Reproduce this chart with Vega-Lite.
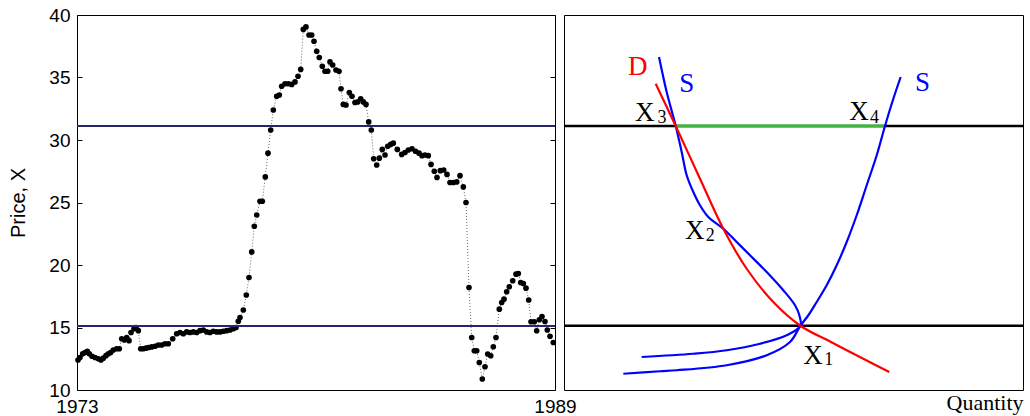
{
  "$schema": "https://vega.github.io/schema/vega-lite/v6.json",
  "background": "white",
  "padding": {"left": 8, "top": 5, "right": 5, "bottom": 2},
  "bounds": "flush",
  "spacing": 9,
  "config": {
    "view": {"stroke": "black", "strokeWidth": 1},
    "axis": {"grid": false, "labelColor": "black", "titleColor": "black", "tickColor": "black"}
  },
  "resolve": {"scale": {"x": "independent", "y": "independent"}},
  "datasets": {
    "price": [
      {"t": 1973.033, "v": 12.4}, {"t": 1973.100, "v": 12.6}, {"t": 1973.191, "v": 12.9}, {"t": 1973.268, "v": 13.0},
      {"t": 1973.345, "v": 13.1}, {"t": 1973.412, "v": 12.9}, {"t": 1973.502, "v": 12.7}, {"t": 1973.603, "v": 12.6},
      {"t": 1973.713, "v": 12.5}, {"t": 1973.803, "v": 12.4}, {"t": 1973.880, "v": 12.55}, {"t": 1973.971, "v": 12.75},
      {"t": 1974.048, "v": 12.9}, {"t": 1974.128, "v": 13.0}, {"t": 1974.215, "v": 13.2}, {"t": 1974.329, "v": 13.3},
      {"t": 1974.416, "v": 13.3}, {"t": 1974.496, "v": 14.1}, {"t": 1974.583, "v": 14.0}, {"t": 1974.664, "v": 14.2},
      {"t": 1974.741, "v": 13.95}, {"t": 1974.808, "v": 14.6}, {"t": 1974.908, "v": 14.9}, {"t": 1974.975, "v": 15.0},
      {"t": 1975.052, "v": 14.75}, {"t": 1975.132, "v": 13.3}, {"t": 1975.219, "v": 13.3}, {"t": 1975.310, "v": 13.35},
      {"t": 1975.400, "v": 13.4}, {"t": 1975.500, "v": 13.45}, {"t": 1975.611, "v": 13.5}, {"t": 1975.721, "v": 13.6},
      {"t": 1975.835, "v": 13.6}, {"t": 1975.946, "v": 13.7}, {"t": 1976.056, "v": 13.7}, {"t": 1976.203, "v": 14.1},
      {"t": 1976.337, "v": 14.5}, {"t": 1976.448, "v": 14.6}, {"t": 1976.558, "v": 14.5}, {"t": 1976.672, "v": 14.65},
      {"t": 1976.782, "v": 14.6}, {"t": 1976.893, "v": 14.65}, {"t": 1977.007, "v": 14.6}, {"t": 1977.117, "v": 14.75},
      {"t": 1977.228, "v": 14.8}, {"t": 1977.341, "v": 14.65}, {"t": 1977.452, "v": 14.6}, {"t": 1977.562, "v": 14.7},
      {"t": 1977.676, "v": 14.65}, {"t": 1977.787, "v": 14.65}, {"t": 1977.897, "v": 14.7}, {"t": 1978.011, "v": 14.75},
      {"t": 1978.121, "v": 14.8}, {"t": 1978.232, "v": 14.9}, {"t": 1978.322, "v": 15.0}, {"t": 1978.399, "v": 15.5},
      {"t": 1978.456, "v": 15.8}, {"t": 1978.567, "v": 16.4}, {"t": 1978.667, "v": 17.6}, {"t": 1978.757, "v": 19.0},
      {"t": 1978.848, "v": 21.05}, {"t": 1978.935, "v": 23.1}, {"t": 1979.015, "v": 24.0}, {"t": 1979.126, "v": 25.1},
      {"t": 1979.203, "v": 25.1}, {"t": 1979.303, "v": 27.05}, {"t": 1979.393, "v": 28.95}, {"t": 1979.484, "v": 30.8},
      {"t": 1979.571, "v": 32.4}, {"t": 1979.685, "v": 33.5}, {"t": 1979.772, "v": 33.6}, {"t": 1979.852, "v": 34.3},
      {"t": 1979.962, "v": 34.5}, {"t": 1980.073, "v": 34.5}, {"t": 1980.187, "v": 34.45}, {"t": 1980.297, "v": 34.65},
      {"t": 1980.398, "v": 35.1}, {"t": 1980.488, "v": 35.65}, {"t": 1980.575, "v": 38.85}, {"t": 1980.665, "v": 39.05},
      {"t": 1980.766, "v": 38.4}, {"t": 1980.856, "v": 38.4}, {"t": 1980.933, "v": 37.9}, {"t": 1981.023, "v": 37.1},
      {"t": 1981.110, "v": 36.6}, {"t": 1981.211, "v": 35.9}, {"t": 1981.301, "v": 35.5}, {"t": 1981.392, "v": 35.5},
      {"t": 1981.469, "v": 36.25}, {"t": 1981.559, "v": 36.0}, {"t": 1981.669, "v": 35.6}, {"t": 1981.770, "v": 35.5},
      {"t": 1981.837, "v": 34.1}, {"t": 1981.914, "v": 32.85}, {"t": 1982.004, "v": 32.8}, {"t": 1982.115, "v": 33.8},
      {"t": 1982.205, "v": 33.5}, {"t": 1982.305, "v": 33.0}, {"t": 1982.396, "v": 33.05}, {"t": 1982.496, "v": 33.3},
      {"t": 1982.583, "v": 33.05}, {"t": 1982.674, "v": 32.85}, {"t": 1982.764, "v": 31.45}, {"t": 1982.851, "v": 30.8},
      {"t": 1982.931, "v": 28.5}, {"t": 1983.032, "v": 28.0}, {"t": 1983.119, "v": 28.55}, {"t": 1983.219, "v": 29.25},
      {"t": 1983.310, "v": 28.8}, {"t": 1983.400, "v": 29.5}, {"t": 1983.500, "v": 29.65}, {"t": 1983.587, "v": 29.75},
      {"t": 1983.721, "v": 29.25}, {"t": 1983.869, "v": 28.85}, {"t": 1983.979, "v": 29.0}, {"t": 1984.090, "v": 29.2},
      {"t": 1984.213, "v": 29.3}, {"t": 1984.331, "v": 29.1}, {"t": 1984.448, "v": 28.95}, {"t": 1984.548, "v": 28.75},
      {"t": 1984.649, "v": 28.8}, {"t": 1984.759, "v": 28.75}, {"t": 1984.850, "v": 28.05}, {"t": 1984.960, "v": 27.5},
      {"t": 1985.050, "v": 27.0}, {"t": 1985.161, "v": 27.55}, {"t": 1985.275, "v": 27.6}, {"t": 1985.385, "v": 27.25},
      {"t": 1985.485, "v": 26.6}, {"t": 1985.596, "v": 26.6}, {"t": 1985.710, "v": 26.65}, {"t": 1985.820, "v": 27.15},
      {"t": 1985.931, "v": 26.25}, {"t": 1986.021, "v": 25.0}, {"t": 1986.121, "v": 18.2}, {"t": 1986.212, "v": 14.2},
      {"t": 1986.299, "v": 13.14}, {"t": 1986.379, "v": 13.14}, {"t": 1986.466, "v": 12.2}, {"t": 1986.567, "v": 10.88},
      {"t": 1986.657, "v": 11.86}, {"t": 1986.747, "v": 12.88}, {"t": 1986.848, "v": 12.74}, {"t": 1986.935, "v": 13.46},
      {"t": 1987.025, "v": 14.2}, {"t": 1987.136, "v": 16.47}, {"t": 1987.216, "v": 17.0}, {"t": 1987.293, "v": 17.27},
      {"t": 1987.383, "v": 17.86}, {"t": 1987.470, "v": 18.26}, {"t": 1987.584, "v": 18.74}, {"t": 1987.695, "v": 19.27},
      {"t": 1987.772, "v": 19.32}, {"t": 1987.852, "v": 18.6}, {"t": 1987.939, "v": 18.52}, {"t": 1988.029, "v": 18.15},
      {"t": 1988.120, "v": 17.2}, {"t": 1988.197, "v": 15.46}, {"t": 1988.307, "v": 15.46}, {"t": 1988.387, "v": 14.74},
      {"t": 1988.474, "v": 15.62}, {"t": 1988.565, "v": 15.88}, {"t": 1988.665, "v": 15.48}, {"t": 1988.742, "v": 14.8},
      {"t": 1988.833, "v": 14.3}, {"t": 1988.943, "v": 13.8}
    ],
    "leftLevels": [{"v": 31.12}, {"v": 15.12}],
    "rightLevels": [{"p": 31.12}, {"p": 15.14}],
    "gap": [{"q1": 24.34, "q2": 69.93, "p": 31.12}],
    "curves": [
      {"c": "S1", "i": 0, "q": 20.70, "p": 36.64},
      {"c": "S1", "i": 1, "q": 22.37, "p": 33.84},
      {"c": "S1", "i": 2, "q": 24.34, "p": 31.12},
      {"c": "S1", "i": 3, "q": 25.64, "p": 29.04},
      {"c": "S1", "i": 4, "q": 26.73, "p": 27.18},
      {"c": "S1", "i": 5, "q": 28.17, "p": 25.84},
      {"c": "S1", "i": 6, "q": 29.63, "p": 24.78},
      {"c": "S1", "i": 7, "q": 31.44, "p": 23.84},
      {"c": "S1", "i": 8, "q": 34.71, "p": 22.90},
      {"c": "S1", "i": 9, "q": 37.62, "p": 21.84},
      {"c": "S1", "i": 10, "q": 40.52, "p": 20.78},
      {"c": "S1", "i": 11, "q": 44.16, "p": 19.44},
      {"c": "S1", "i": 12, "q": 47.78, "p": 17.98},
      {"c": "S1", "i": 13, "q": 50.33, "p": 16.78},
      {"c": "S1", "i": 14, "q": 51.27, "p": 15.98},
      {"c": "S1", "i": 15, "q": 51.5, "p": 15.14},
      {"c": "S1", "i": 16, "q": 48.52, "p": 14.38},
      {"c": "S1", "i": 17, "q": 42.70, "p": 13.70},
      {"c": "S1", "i": 18, "q": 35.45, "p": 13.18},
      {"c": "S1", "i": 19, "q": 28.17, "p": 12.90},
      {"c": "S1", "i": 20, "q": 16.93, "p": 12.64},
      {"c": "S2", "i": 0, "q": 73.35, "p": 35.04},
      {"c": "S2", "i": 1, "q": 71.75, "p": 33.30},
      {"c": "S2", "i": 2, "q": 69.93, "p": 31.12},
      {"c": "S2", "i": 3, "q": 68.13, "p": 28.78},
      {"c": "S2", "i": 4, "q": 65.95, "p": 26.38},
      {"c": "S2", "i": 5, "q": 63.77, "p": 23.98},
      {"c": "S2", "i": 6, "q": 61.59, "p": 21.84},
      {"c": "S2", "i": 7, "q": 59.41, "p": 19.98},
      {"c": "S2", "i": 8, "q": 57.23, "p": 18.38},
      {"c": "S2", "i": 9, "q": 55.05, "p": 17.04},
      {"c": "S2", "i": 10, "q": 53.24, "p": 15.98},
      {"c": "S2", "i": 11, "q": 51.5, "p": 15.14},
      {"c": "S2", "i": 12, "q": 49.24, "p": 13.84},
      {"c": "S2", "i": 13, "q": 44.16, "p": 12.78},
      {"c": "S2", "i": 14, "q": 35.45, "p": 11.98},
      {"c": "S2", "i": 15, "q": 24.55, "p": 11.58},
      {"c": "S2", "i": 16, "q": 20.92, "p": 11.50},
      {"c": "S2", "i": 17, "q": 12.92, "p": 11.30},
      {"c": "D", "i": 0, "q": 19.98, "p": 34.50},
      {"c": "D", "i": 1, "q": 24.34, "p": 31.12},
      {"c": "D", "i": 2, "q": 29.63, "p": 26.90},
      {"c": "D", "i": 3, "q": 34.71, "p": 22.90},
      {"c": "D", "i": 4, "q": 39.80, "p": 19.70},
      {"c": "D", "i": 5, "q": 45.60, "p": 17.04},
      {"c": "D", "i": 6, "q": 51.5, "p": 15.14},
      {"c": "D", "i": 7, "q": 58.17, "p": 13.84},
      {"c": "D", "i": 8, "q": 65.21, "p": 12.50},
      {"c": "D", "i": 9, "q": 70.87, "p": 11.44}
    ],
    "labels": [
      {"kind": "point", "txt": "X", "q": 15.47, "p": 31.56},
      {"kind": "point", "txt": "X", "q": 26.36, "p": 22.10},
      {"kind": "point", "txt": "X", "q": 52.14, "p": 12.10},
      {"kind": "point", "txt": "X", "q": 62.16, "p": 31.58},
      {"kind": "sub", "txt": "3", "q": 20.37, "p": 31.36},
      {"kind": "sub", "txt": "2", "q": 30.87, "p": 21.92},
      {"kind": "sub", "txt": "1", "q": 56.71, "p": 12.02},
      {"kind": "sub", "txt": "4", "q": 66.67, "p": 31.38},
      {"kind": "demand", "txt": "D", "q": 13.94, "p": 35.2},
      {"kind": "supply", "txt": "S", "q": 25.12, "p": 33.84},
      {"kind": "supply", "txt": "S", "q": 76.47, "p": 33.9}
    ]
  },
  "hconcat": [
    {
      "width": 478,
      "height": 375,
      "resolve": {"axis": {"y": "independent"}},
      "layer": [
        {
          "data": {"name": "price"},
          "mark": {"type": "line", "color": "#666666", "strokeWidth": 1, "strokeDash": [1, 2]},
          "encoding": {
            "x": {"field": "t", "type": "quantitative",
              "scale": {"domain": [1973, 1989], "nice": false, "zero": false},
              "axis": {"values": [1973, 1989], "format": "d", "ticks": false, "domain": false, "labelFlush": false,
                "labelFont": "Liberation Sans", "labelFontSize": 19, "labelPadding": 7, "title": null}},
            "y": {"field": "v", "type": "quantitative",
              "scale": {"domain": [10, 40], "nice": false, "zero": false},
              "axis": {"orient": "left", "values": [10, 15, 20, 25, 30, 35, 40], "tickSize": -5, "domain": false,
                "labelFont": "Liberation Sans", "labelFontSize": 19, "labelPadding": 12,
                "title": "Price, X", "titleFont": "Liberation Sans", "titleFontSize": 20,
                "titleFontWeight": "normal", "titlePadding": 20}}
          }
        },
        {
          "data": {"name": "price"},
          "mark": {"type": "circle", "color": "black", "size": 32, "opacity": 1},
          "encoding": {
            "x": {"field": "t", "type": "quantitative",
              "axis": {"values": [1973, 1989], "format": "d", "ticks": false, "domain": false, "labelFlush": false,
                "labelFont": "Liberation Sans", "labelFontSize": 19, "labelPadding": 7, "title": null}},
            "y": {"field": "v", "type": "quantitative",
              "axis": {"orient": "right", "values": [10, 15, 20, 25, 30, 35, 40], "tickSize": -5,
                "domain": false, "labels": false, "title": null}}
          }
        },
        {
          "data": {"name": "leftLevels"},
          "mark": {"type": "rule", "color": "#26266a", "strokeWidth": 2},
          "encoding": {
            "y": {"field": "v", "type": "quantitative", "axis": null}
          }
        }
      ]
    },
    {
      "width": 459,
      "height": 375,
      "layer": [
        {
          "data": {"name": "rightLevels"},
          "mark": {"type": "rule", "color": "black", "strokeWidth": 2.5},
          "encoding": {
            "y": {"field": "p", "type": "quantitative",
              "scale": {"domain": [10, 40], "nice": false, "zero": false}, "axis": null}
          }
        },
        {
          "data": {"name": "gap"},
          "mark": {"type": "rule", "color": "#3cba3c", "strokeWidth": 3},
          "encoding": {
            "x": {"field": "q1", "type": "quantitative",
              "scale": {"domain": [0, 100], "nice": false, "zero": false},
              "axis": {"title": "Quantity", "titleAnchor": "end", "titleFont": "Liberation Serif",
                "titleFontSize": 22, "titleFontWeight": "normal", "titlePadding": 2,
                "labels": false, "ticks": false, "domain": false}},
            "x2": {"field": "q2"},
            "y": {"field": "p", "type": "quantitative", "axis": null}
          }
        },
        {
          "data": {"name": "curves"},
          "transform": [{"filter": "datum.c !== 'D'"}],
          "mark": {"type": "line", "color": "#0000ff", "strokeWidth": 2.2, "interpolate": "catmull-rom"},
          "encoding": {
            "x": {"field": "q", "type": "quantitative",
              "axis": {"title": "Quantity", "titleAnchor": "end", "titleFont": "Liberation Serif",
                "titleFontSize": 22, "titleFontWeight": "normal", "titlePadding": 2,
                "labels": false, "ticks": false, "domain": false}},
            "y": {"field": "p", "type": "quantitative", "axis": null},
            "detail": {"field": "c"},
            "order": {"field": "i", "type": "quantitative"}
          }
        },
        {
          "data": {"name": "curves"},
          "transform": [{"filter": "datum.c === 'D'"}],
          "mark": {"type": "line", "color": "#ff0000", "strokeWidth": 2.2, "interpolate": "catmull-rom"},
          "encoding": {
            "x": {"field": "q", "type": "quantitative",
              "axis": {"title": "Quantity", "titleAnchor": "end", "titleFont": "Liberation Serif",
                "titleFontSize": 22, "titleFontWeight": "normal", "titlePadding": 2,
                "labels": false, "ticks": false, "domain": false}},
            "y": {"field": "p", "type": "quantitative", "axis": null},
            "order": {"field": "i", "type": "quantitative"}
          }
        },
        {
          "data": {"name": "labels"},
          "transform": [{"filter": "datum.kind === 'point'"}],
          "mark": {"type": "text", "font": "Liberation Serif", "fontSize": 27, "color": "black", "align": "left", "baseline": "alphabetic"},
          "encoding": {
            "x": {"field": "q", "type": "quantitative",
              "axis": {"title": "Quantity", "titleAnchor": "end", "titleFont": "Liberation Serif",
                "titleFontSize": 22, "titleFontWeight": "normal", "titlePadding": 2,
                "labels": false, "ticks": false, "domain": false}},
            "y": {"field": "p", "type": "quantitative", "axis": null},
            "text": {"field": "txt"}
          }
        },
        {
          "data": {"name": "labels"},
          "transform": [{"filter": "datum.kind === 'sub'"}],
          "mark": {"type": "text", "font": "Liberation Serif", "fontSize": 18, "color": "black", "align": "left", "baseline": "alphabetic"},
          "encoding": {
            "x": {"field": "q", "type": "quantitative",
              "axis": {"title": "Quantity", "titleAnchor": "end", "titleFont": "Liberation Serif",
                "titleFontSize": 22, "titleFontWeight": "normal", "titlePadding": 2,
                "labels": false, "ticks": false, "domain": false}},
            "y": {"field": "p", "type": "quantitative", "axis": null},
            "text": {"field": "txt"}
          }
        },
        {
          "data": {"name": "labels"},
          "transform": [{"filter": "datum.kind === 'demand'"}],
          "mark": {"type": "text", "font": "Liberation Serif", "fontSize": 27, "color": "#ff0000", "align": "left", "baseline": "alphabetic"},
          "encoding": {
            "x": {"field": "q", "type": "quantitative",
              "axis": {"title": "Quantity", "titleAnchor": "end", "titleFont": "Liberation Serif",
                "titleFontSize": 22, "titleFontWeight": "normal", "titlePadding": 2,
                "labels": false, "ticks": false, "domain": false}},
            "y": {"field": "p", "type": "quantitative", "axis": null},
            "text": {"field": "txt"}
          }
        },
        {
          "data": {"name": "labels"},
          "transform": [{"filter": "datum.kind === 'supply'"}],
          "mark": {"type": "text", "font": "Liberation Serif", "fontSize": 27, "color": "#0000ff", "align": "left", "baseline": "alphabetic"},
          "encoding": {
            "x": {"field": "q", "type": "quantitative",
              "axis": {"title": "Quantity", "titleAnchor": "end", "titleFont": "Liberation Serif",
                "titleFontSize": 22, "titleFontWeight": "normal", "titlePadding": 2,
                "labels": false, "ticks": false, "domain": false}},
            "y": {"field": "p", "type": "quantitative", "axis": null},
            "text": {"field": "txt"}
          }
        }
      ]
    }
  ]
}
